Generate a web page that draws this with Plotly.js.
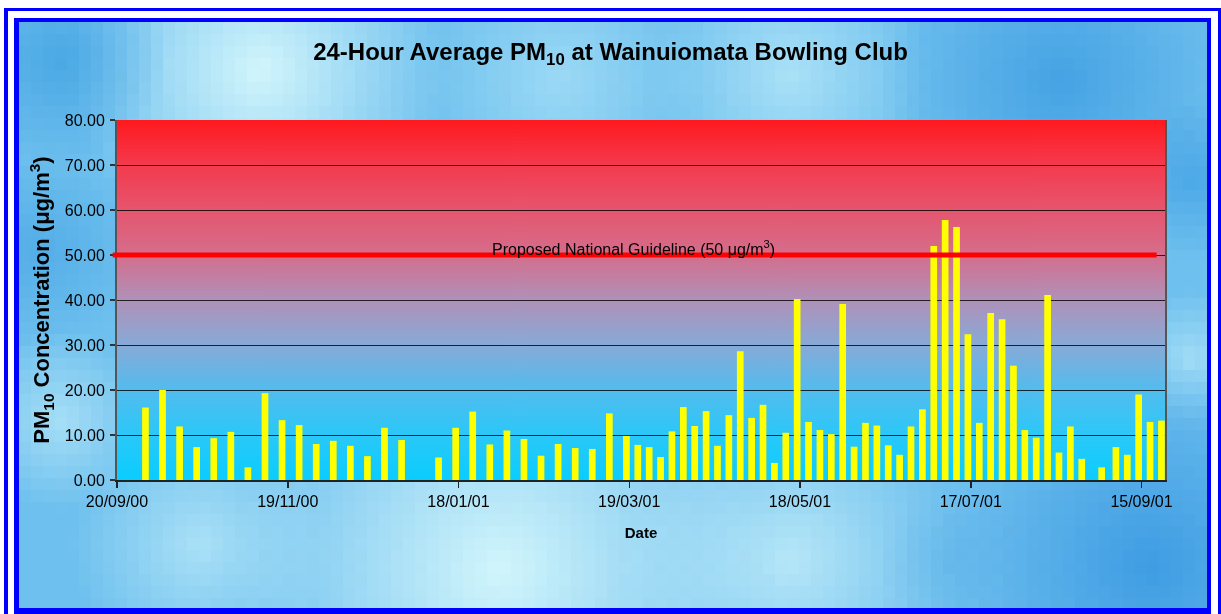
<!DOCTYPE html>
<html><head><meta charset="utf-8">
<script src="https://cdn.plot.ly/plotly-3.0.1.min.js"></script>
<style>
html,body{margin:0;padding:0;background:#fff;overflow:hidden}
#wrap{position:relative;width:1221px;height:614px}
#bg{position:absolute;left:0;top:0}
#chart{position:absolute;left:0;top:0;width:1221px;height:614px}
</style></head><body>
<div id="wrap"><canvas id="bg" width="1221" height="614"></canvas><div id="chart"></div></div>
<script>
// ---- data ----
const sampleDates = [
  '2000-09-30','2000-10-06','2000-10-12','2000-10-18','2000-10-24','2000-10-30',
  '2000-11-05','2000-11-11','2000-11-17','2000-11-23','2000-11-29','2000-12-05',
  '2000-12-11','2000-12-17','2000-12-23','2000-12-29',
  '2001-01-11','2001-01-17','2001-01-23','2001-01-29','2001-02-04','2001-02-10',
  '2001-02-16','2001-02-22','2001-02-28','2001-03-06','2001-03-12','2001-03-18',
  '2001-03-22','2001-03-26','2001-03-30','2001-04-03','2001-04-07','2001-04-11',
  '2001-04-15','2001-04-19','2001-04-23','2001-04-27','2001-05-01','2001-05-05',
  '2001-05-09','2001-05-13','2001-05-17','2001-05-21','2001-05-25','2001-05-29',
  '2001-06-02','2001-06-06','2001-06-10','2001-06-14','2001-06-18','2001-06-22',
  '2001-06-26','2001-06-30','2001-07-04','2001-07-08','2001-07-12','2001-07-16',
  '2001-07-20','2001-07-24','2001-07-28','2001-08-01','2001-08-05','2001-08-09',
  '2001-08-13','2001-08-17','2001-08-21','2001-08-25',
  '2001-09-01','2001-09-06','2001-09-10','2001-09-14','2001-09-18','2001-09-22'
];
const pm10 = [
  16.1, 20.0, 11.9, 7.3, 9.3, 10.7,
  2.8, 19.3, 13.3, 12.2, 8.0, 8.7,
  7.6, 5.3, 11.6, 8.9,
  5.0, 11.6, 15.2, 7.9, 11.0, 9.1,
  5.4, 8.0, 7.1, 6.9, 14.8, 9.8,
  7.8, 7.3, 5.1, 10.8, 16.2, 12.0,
  15.3, 7.6, 14.4, 28.6, 13.8, 16.7,
  3.8, 10.5, 40.2, 12.9, 11.1, 10.2,
  39.1, 7.4, 12.7, 12.1, 7.7, 5.6,
  11.9, 15.7, 52.0, 57.8, 56.2, 32.4,
  12.7, 37.1, 35.7, 25.4, 11.1, 9.4,
  41.1, 6.1, 11.9, 4.7,
  2.8, 7.3, 5.6, 19.0, 12.9, 13.2
];
const tickDates = ['2000-09-20','2000-11-19','2001-01-18','2001-03-19','2001-05-18','2001-07-17','2001-09-15'];
const tickLabels = ['20/09/00','19/11/00','18/01/01','19/03/01','18/05/01','17/07/01','15/09/01'];
const guideline = 50;

// ---- background (frame + textured fill) ----
function drawBackground(){
  const c = document.getElementById('bg');
  const ctx = c.getContext('2d');
  ctx.fillStyle = '#ffffff';
  ctx.fillRect(0,0,1221,614);
  const cell = 12, X0 = 19, Y0 = 22, W = 1188, H = 586;
  const sw = Math.ceil(W/cell), sh = Math.ceil(H/cell);
  const s = document.createElement('canvas'); s.width = sw; s.height = sh;
  const sc = s.getContext('2d');
  sc.fillStyle = 'rgb(110,192,238)'; sc.fillRect(0,0,sw,sh);
  const blobs = [
    [260,70,190,'215,248,252',0.95],[560,80,140,'175,228,248',0.7],[790,75,140,'190,236,250',0.75],
    [500,570,270,'215,248,252',0.95],[790,560,170,'200,240,250',0.8],[60,420,90,'180,230,248',0.8],
    [1190,360,70,'170,225,248',0.85],[200,545,130,'195,238,250',0.7],
    [1060,80,180,'60,155,225',0.8],[60,60,110,'62,160,225',0.75],[1150,565,210,'55,150,225',0.85],
    [40,250,100,'72,165,228',0.7],[1195,180,80,'65,160,228',0.75],[950,560,70,'95,178,232',0.6]
  ];
  for (const [bx,by,r,col,a] of blobs){
    const cx = (bx-X0)/cell, cy = (by-Y0)/cell, rr = r/cell;
    const g = sc.createRadialGradient(cx,cy,0,cx,cy,rr);
    g.addColorStop(0,'rgba('+col+','+a+')');
    g.addColorStop(1,'rgba('+col+',0)');
    sc.fillStyle = g; sc.fillRect(0,0,sw,sh);
  }
  ctx.save();
  ctx.beginPath(); ctx.rect(X0,Y0,W,H); ctx.clip();
  ctx.imageSmoothingEnabled = false;
  ctx.drawImage(s,0,0,sw,sh,X0,Y0,sw*cell,sh*cell);
  ctx.restore();
  ctx.fillStyle = '#0000ff';
  // outer thin frame
  ctx.fillRect(4,8,1217,3); ctx.fillRect(4,8,4,606); ctx.fillRect(1218,8,3,606);
  // inner thick frame
  ctx.fillRect(14,18,1197,4); ctx.fillRect(14,18,5,596); ctx.fillRect(1207,18,4,596); ctx.fillRect(14,608,1197,6);
}
drawBackground();

function plotGradient(){
  const c = document.createElement('canvas'); c.width = 4; c.height = 360;
  const ctx = c.getContext('2d');
  const g = ctx.createLinearGradient(0,0,0,360);
  g.addColorStop(0.000,'rgb(255,25,30)');
  g.addColorStop(0.125,'rgb(244,58,78)');
  g.addColorStop(0.250,'rgb(230,85,110)');
  g.addColorStop(0.375,'rgb(212,110,140)');
  g.addColorStop(0.500,'rgb(175,145,185)');
  g.addColorStop(0.625,'rgb(135,170,215)');
  g.addColorStop(0.750,'rgb(82,188,238)');
  g.addColorStop(0.875,'rgb(42,200,248)');
  g.addColorStop(1.000,'rgb(10,205,255)');
  ctx.fillStyle = g; ctx.fillRect(0,0,4,360);
  return c.toDataURL('image/png');
}

const FONT = 'Liberation Sans, Arial, Helvetica, sans-serif';
const trace = {
  type:'bar', x:sampleDates, y:pm10,
  width: 2.35*86400000,
  marker:{color:'#ffff00', line:{width:0}},
  hoverinfo:'x+y'
};
const layout = {
  width:1221, height:614,
  margin:{l:117, r:56, t:120, b:134, pad:0},
  paper_bgcolor:'rgba(0,0,0,0)', plot_bgcolor:'rgba(0,0,0,0)',
  font:{family:FONT, color:'#000', size:16},
  showlegend:false,
  title:{text:'24-Hour Average PM<sub>10</sub> at Wainuiomata Bowling Club',
         font:{family:FONT, size:24, weight:'bold', color:'#000'},
         x:0.5, xref:'container', xanchor:'center', y:1-52/614, yref:'container', yanchor:'middle'},
  xaxis:{type:'date', range:['2000-09-20','2001-09-23 06:00'],
         tickvals:tickDates, ticktext:tickLabels,
         ticks:'outside', ticklen:6, tickwidth:1.5, tickcolor:'#222',
         showline:true, linecolor:'#222', linewidth:2, showgrid:false, zeroline:false,
         tickfont:{size:16},
         title:{text:'Date', font:{size:15, weight:'bold'}, standoff:18}},
  yaxis:{range:[0,80], tick0:0, dtick:10, tickformat:'.2f',
         ticks:'outside', ticklen:5, tickwidth:1.5, tickcolor:'#333', ticklabelstandoff:2,
         showline:true, linecolor:'#555', linewidth:2, mirror:true,
         showgrid:true, gridcolor:'rgba(0,0,0,0.8)', gridwidth:1, zeroline:false,
         tickfont:{size:16},
         title:{text:'PM<sub>10</sub> Concentration (μg/m<sup>3</sup>)', font:{size:22, weight:'bold'}, standoff:9}},
  images:[{source:plotGradient(), xref:'paper', yref:'paper', x:0, y:1, sizex:1, sizey:1,
           xanchor:'left', yanchor:'top', sizing:'stretch', layer:'below'}],
  shapes:[{type:'line', xref:'paper', yref:'y', x0:-0.0041, x1:0.992, y0:guideline, y1:guideline,
           line:{color:'#ff0000', width:5}, layer:'above'}],
  annotations:[{xref:'paper', yref:'y', x:0.4924, y:guideline, xanchor:'center', yanchor:'middle', yshift:7,
           text:'Proposed National Guideline (' + guideline + ' μg/m<sup>3</sup>)', showarrow:false,
           font:{size:16, color:'#000'}}]
};
Plotly.newPlot('chart',[trace],layout,{displayModeBar:false, staticPlot:true});
</script>
</body></html>
